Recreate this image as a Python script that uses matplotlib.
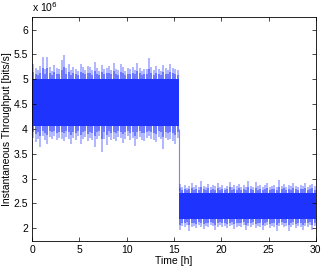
import matplotlib
matplotlib.use("Agg")
import matplotlib.pyplot as plt

# values in units of 1e6 bits/s
# solid core of the throughput band, per segment (time in h)
seg_t1 = [0.0, 15.5]
core_lo1 = [4.06, 4.06]
core_hi1 = [5.00, 5.00]
seg_t2 = [15.5, 30.0]
core_lo2 = [2.18, 2.18]
core_hi2 = [2.71, 2.71]

# ragged envelope (max / min per quarter hour)
env_t1 = [0.125, 0.375, 0.625, 0.875, 1.125, 1.375, 1.625, 1.875, 2.125, 2.375,
          2.625, 2.875, 3.125, 3.375, 3.625, 3.875, 4.125, 4.375, 4.625, 4.875,
          5.125, 5.375, 5.625, 5.875, 6.125, 6.375, 6.625, 6.875, 7.125, 7.375,
          7.625, 7.875, 8.125, 8.375, 8.625, 8.875, 9.125, 9.375, 9.625, 9.875,
          10.125, 10.375, 10.625, 10.875, 11.125, 11.375, 11.625, 11.875, 12.125, 12.375,
          12.625, 12.875, 13.125, 13.375, 13.625, 13.875, 14.125, 14.375, 14.625, 14.875,
          15.125, 15.375]
env_hi1 = [5.30, 5.22, 5.18, 5.26, 5.45, 5.20, 5.44, 5.24, 5.16, 5.28,
           5.22, 5.20, 5.38, 5.48, 5.22, 5.30, 5.18, 5.25, 5.21, 5.16,
           5.30, 5.24, 5.19, 5.26, 5.24, 5.18, 5.34, 5.22, 5.17, 5.28,
           5.20, 5.23, 5.26, 5.19, 5.32, 5.21, 5.18, 5.30, 5.24, 5.16,
           5.22, 5.20, 5.25, 5.19, 5.32, 5.23, 5.17, 5.21, 5.20, 5.42,
           5.24, 5.18, 5.26, 5.20, 5.17, 5.28, 5.22, 5.19, 5.30, 5.23,
           5.20, 5.18]
env_lo1 = [3.82, 3.74, 3.80, 3.64, 3.86, 3.78, 3.70, 3.84, 3.80, 3.85,
           3.78, 3.82, 3.80, 3.76, 3.84, 3.80, 3.70, 3.82, 3.78, 3.86,
           3.70, 3.80, 3.84, 3.75, 3.82, 3.78, 3.64, 3.80, 3.85, 3.54,
           3.80, 3.68, 3.84, 3.78, 3.80, 3.76, 3.84, 3.82, 3.72, 3.80,
           3.86, 3.78, 3.82, 3.66, 3.80, 3.84, 3.78, 3.76, 3.82, 3.85,
           3.80, 3.78, 3.74, 3.84, 3.80, 3.60, 3.82, 3.78, 3.80, 3.76,
           3.70, 3.82]

env_t2 = [15.625, 15.875, 16.125, 16.375, 16.625, 16.875, 17.125, 17.375, 17.625, 17.875,
          18.125, 18.375, 18.625, 18.875, 19.125, 19.375, 19.625, 19.875, 20.125, 20.375,
          20.625, 20.875, 21.125, 21.375, 21.625, 21.875, 22.125, 22.375, 22.625, 22.875,
          23.125, 23.375, 23.625, 23.875, 24.125, 24.375, 24.625, 24.875, 25.125, 25.375,
          25.625, 25.875, 26.125, 26.375, 26.625, 26.875, 27.125, 27.375, 27.625, 27.875,
          28.125, 28.375, 28.625, 28.875, 29.125, 29.375, 29.625, 29.875]
env_hi2 = [2.90, 2.84, 2.88, 2.82, 2.86, 2.92, 2.84, 2.88, 2.83, 2.95,
           2.86, 2.84, 2.90, 2.83, 2.87, 2.85, 2.92, 2.84, 2.88, 2.82,
           2.86, 2.94, 2.84, 2.88, 2.85, 2.90, 2.83, 2.87, 2.84, 2.96,
           2.86, 2.84, 2.93, 2.85, 2.88, 2.83, 2.87, 2.92, 2.84, 2.86,
           2.88, 2.84, 2.97, 2.86, 2.90, 2.83, 2.87, 2.85, 2.92, 2.86,
           2.84, 2.88, 2.86, 2.92, 2.84, 2.87, 2.90, 2.85]
env_lo2 = [1.97, 2.04, 2.02, 2.06, 1.95, 2.03, 2.05, 2.00, 2.06, 2.03,
           1.98, 2.05, 2.02, 2.06, 2.04, 1.96, 2.03, 2.06, 2.02, 2.05,
           2.00, 2.04, 2.06, 1.99, 2.03, 2.05, 2.02, 2.06, 1.97, 2.04,
           2.02, 2.06, 2.00, 2.05, 2.03, 1.96, 2.04, 2.06, 2.01, 2.05,
           2.03, 1.95, 2.04, 2.06, 2.02, 2.05, 1.94, 2.03, 2.06, 2.01,
           2.04, 2.02, 1.97, 2.05, 2.03, 2.06, 1.96, 2.04]

step_t = 15.5
step_top, step_bottom = 4.0, 2.75

x_ticks = [0, 5, 10, 15, 20, 25, 30]
y_ticks = [2, 2.5, 3, 3.5, 4, 4.5, 5, 5.5, 6]

plt.rcParams["font.family"] = ["Liberation Sans", "DejaVu Sans"]
plt.rcParams["font.size"] = 7.5

fig = plt.figure(figsize=(3.25, 2.67), dpi=100)
ax = fig.add_axes([0.0985, 0.0985, 0.8735, 0.8375])
BLUE = "#1f33ff"


def band(t, env_hi, env_lo, core_hi, core_lo):
    # outer light spikes, then a denser inner fringe at half their reach
    ax.vlines(t, core_hi, env_hi, color=BLUE, alpha=0.45, lw=1.1)
    ax.vlines(t, env_lo, core_lo, color=BLUE, alpha=0.45, lw=1.1)
    mid_hi = [core_hi + 0.5 * (v - core_hi) for v in env_hi]
    mid_lo = [core_lo - 0.5 * (core_lo - v) for v in env_lo]
    ax.vlines(t, core_hi, mid_hi, color=BLUE, alpha=0.6, lw=1.1)
    ax.vlines(t, mid_lo, core_lo, color=BLUE, alpha=0.6, lw=1.1)


band(env_t1, env_hi1, env_lo1, core_hi1[0], core_lo1[0])
band(env_t2, env_hi2, env_lo2, core_hi2[0], core_lo2[0])
ax.fill_between(seg_t1, core_lo1, core_hi1, color=BLUE, lw=0)
ax.fill_between(seg_t2, core_lo2, core_hi2, color=BLUE, lw=0)
ax.vlines([step_t], step_bottom, step_top, color=BLUE, alpha=0.6, lw=0.8)

ax.set_xlim(0, 30)
ax.set_ylim(1.75, 6.25)
ax.set_xticks(x_ticks)
ax.set_yticks(y_ticks)
ax.set_yticklabels([f"{v:g}" for v in y_ticks])
ax.tick_params(direction="in", length=3, width=0.5, top=True, right=True, pad=3)
for s in ax.spines.values():
    s.set_linewidth(0.6)
ax.set_xlabel("Time [h]", labelpad=1)
ax.set_ylabel("Instantaneous Throughput [bits/s]", labelpad=1)
ax.text(0, 1.015, r"x 10$^6$", transform=ax.transAxes, ha="left", va="bottom")

fig.savefig("out.png", dpi=100)
